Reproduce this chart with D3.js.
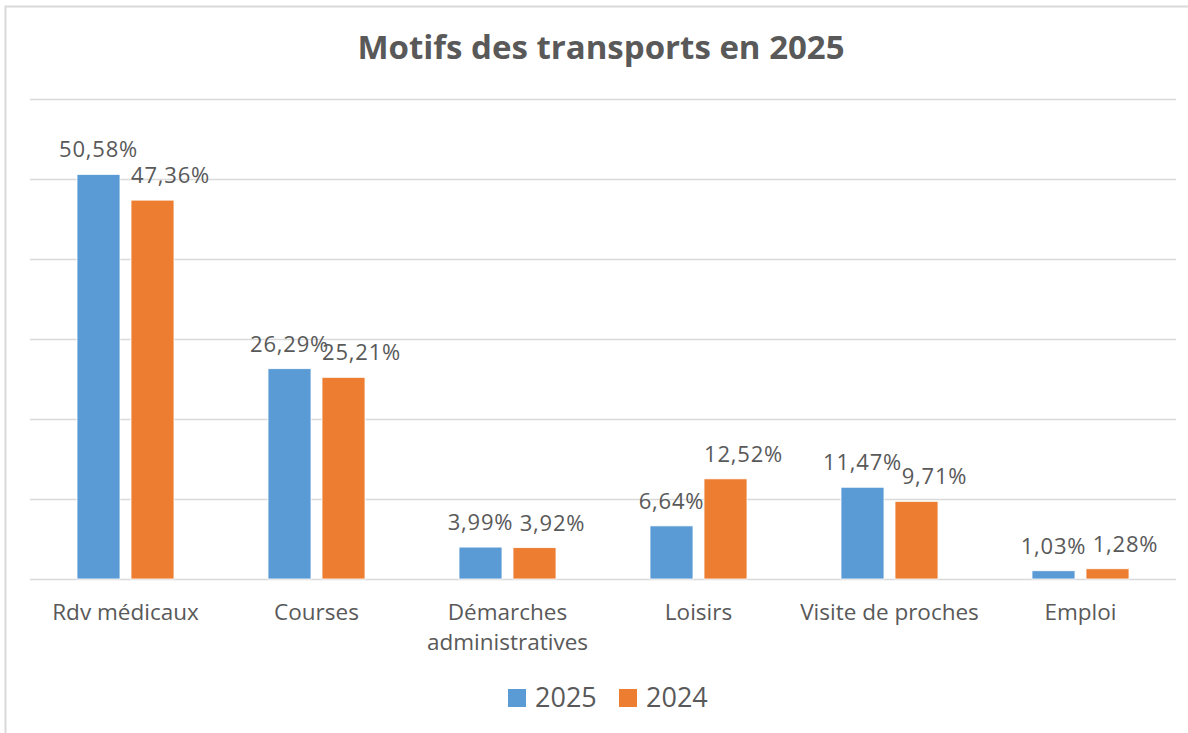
<!DOCTYPE html>
<html><head><meta charset="utf-8">
<script src="https://cdn.jsdelivr.net/npm/d3@7/dist/d3.min.js"></script>
<style>body{margin:0;background:#fff;}svg{display:block;font-family:"Open Sans",sans-serif;}</style>
</head><body><svg id="c" width="1188" height="733"></svg>
<script>
const categories = [["Rdv médicaux"],["Courses"],["Démarches","administratives"],["Loisirs"],["Visite de proches"],["Emploi"]];
const seriesNames = ["2025","2024"];
const values2025 = [50.58, 26.29, 3.99, 6.64, 11.47, 1.03];
const values2024 = [47.36, 25.21, 3.92, 12.52, 9.71, 1.28];
const labels2025 = ["50,58%","26,29%","3,99%","6,64%","11,47%","1,03%"];
const labels2024 = ["47,36%","25,21%","3,92%","12,52%","9,71%","1,28%"];
const yTicks = [0,10,20,30,40,50,60];
const colors = ["#5B9BD5","#ED7D31"];
const textColor = "#595959";

const svg = d3.select("#c");
const W = 1188, H = 733;
svg.append("rect").attr("x",5.5).attr("y",6.5).attr("width",W+10).attr("height",H+10)
  .attr("fill","#fff").attr("stroke","#d9d9d9").attr("stroke-width",2);

const pLeft = 30, pRight = 1176, pTop = 99, pBottom = 579;
const y = d3.scaleLinear().domain([0,60]).range([pBottom, pTop]);
const x0 = d3.scaleBand().domain(d3.range(categories.length)).range([pLeft, pRight]).padding(0);
const bw = x0.bandwidth();
const barW = bw * 43/191, gap = bw * 11/191;

// gridlines
svg.append("g").selectAll("line").data(yTicks).join("line")
  .attr("x1", pLeft).attr("x2", pRight)
  .attr("y1", d => Math.round(y(d))+0.5).attr("y2", d => Math.round(y(d))+0.5)
  .attr("stroke","#d9d9d9").attr("stroke-width",1.5);

// title
svg.append("text").attr("x", 601).attr("y", 59).attr("text-anchor","middle")
  .attr("font-size", 33).attr("font-weight","bold").attr("fill", textColor)
  .text("Motifs des transports en 2025");

const series = [values2025, values2024];
const labs = [labels2025, labels2024];
const labelShift = [0, 18];
series.forEach((vals, si) => {
  const g = svg.append("g");
  vals.forEach((v, i) => {
    const cx = x0(i) + bw/2;
    const bx = si === 0 ? cx - gap/2 - barW : cx + gap/2;
    g.append("rect").attr("x", bx).attr("y", y(v)).attr("width", barW)
      .attr("height", y(0) - y(v)).attr("fill", colors[si])
      .attr("stroke","#fff").attr("stroke-width",0.8);
    g.append("text").attr("x", bx + barW/2 + labelShift[si]).attr("y", y(v) - 17)
      .attr("text-anchor","middle").attr("font-size", 22).attr("fill", textColor)
      .attr("letter-spacing", 0.8)
      .text(labs[si][i]);
  });
});

// category labels
categories.forEach((lines, i) => {
  const t = svg.append("text").attr("x", x0(i) + bw/2).attr("y", 620)
    .attr("text-anchor","middle").attr("font-size", 22.5).attr("fill", textColor);
  lines.forEach((l, k) => t.append("tspan").attr("x", x0(i)+bw/2).attr("dy", k ? 30 : 0).text(l));
});

// legend
const legend = svg.append("g");
const legX = [508, 619];
seriesNames.forEach((n, si) => {
  legend.append("rect").attr("x", legX[si]).attr("y", 689).attr("width", 18).attr("height", 18).attr("fill", colors[si]);
  legend.append("text").attr("x", legX[si] + 27).attr("y", 707).attr("font-size", 27).attr("fill", textColor).text(n);
});
</script></body></html>
